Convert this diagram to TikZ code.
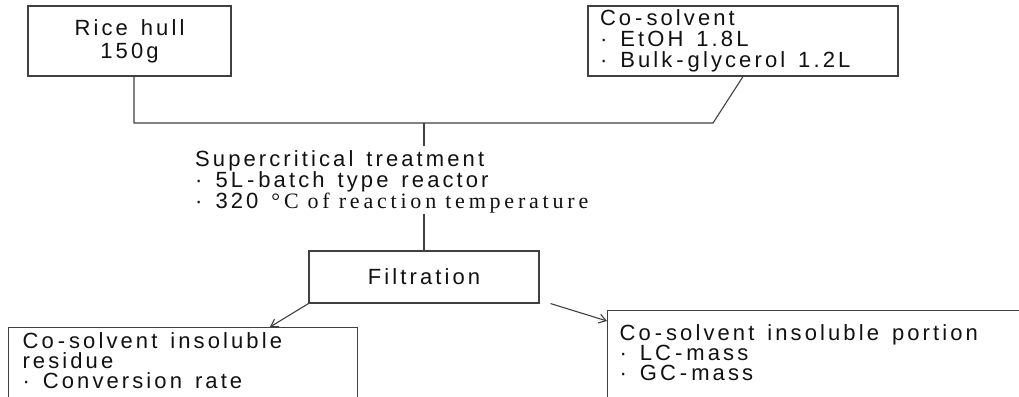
\documentclass[tikz,border=0pt]{standalone}
\usepackage{fontspec}
\setmainfont{Liberation Sans}
\newfontfamily\serifpart{Liberation Serif}
\usetikzlibrary{arrows.meta}
\definecolor{ln}{HTML}{404040}
\definecolor{tx}{HTML}{111111}
\newdimen\trk \trk=3.1pt
\newdimen\trkh \trkh=4pt
\XeTeXcharclass`\-=1
\XeTeXinterchartoks 0 0 = {\kern\trk}
\XeTeXinterchartoks 0 1 = {\kern\trkh}
\XeTeXinterchartoks 1 0 = {\kern\trkh}
\newcommand\trackfont{\fontsize{22}{21}\selectfont\XeTeXinterchartokenstate=1\relax}
\newcommand\widespaces{\spaceskip=13pt plus 2pt minus 1pt\relax\xspaceskip=13pt\relax}
\newcommand\serifbit[1]{{\serifpart\trk=3.8pt\spaceskip=9pt\relax\xspaceskip=9pt\relax#1}}
\newcommand\deepend{\rule[-16pt]{0pt}{1pt}}
\begin{document}
\begin{tikzpicture}[x=1pt,y=-1pt,
  every node/.style={text=tx,font=\trackfont,execute at begin node=\widespaces},
  box/.style={draw=ln,line width=1.1pt,rectangle},
  conn/.style={draw=ln,line width=1.1pt},
  arr/.style={conn,-{Straight Barb[length=7pt,width=9pt]}}]
\useasboundingbox (0,0) rectangle (1019,396);
\clip (0,0) rectangle (1019,396);
\fill[white] (0,0) rectangle (1019,396);

\node[box,minimum width=203pt,minimum height=70pt,align=center,inner sep=0pt] (rice) at (129.5,41)
  {Rice hull\\[2pt]150g};
\node[box,minimum height=70pt,text width=286pt,inner xsep=12pt,inner ysep=0pt,align=left] (cos) at (743,41)
  {Co-solvent\\· EtOH 1.8L\\· Bulk-glycerol 1.2L};
\node[anchor=north west,inner sep=0pt,align=left] (sc) at (195,150.5)
  {Supercritical treatment\\· 5L-batch type reactor\\· 320 \serifbit{°C of reaction temperature}};
\node[box,minimum width=230pt,minimum height=52pt,inner sep=0pt] (filt) at (424,277) {Filtration};
\node[box,anchor=north west,text width=321pt,inner xsep=14pt,inner ysep=5.3pt,align=left] (res) at (8,327)
  {Co-solvent insoluble\\[-1pt]residue\\[-1pt]· Conversion rate\deepend};
\node[box,anchor=north west,text width=420pt,inner xsep=12pt,inner ysep=14.3pt,align=left] (por) at (607,310)
  {Co-solvent insoluble portion\\[-1pt]· LC-mass\\[-1pt]· GC-mass\deepend};

\coordinate (hr) at (713,123);
\coordinate (j) at (424,123);
\draw[conn] ([xshift=4.5pt]rice.south) |- (hr) -- (cos.south);
\draw[conn] (j) -- ([yshift=4.5pt]sc.north -| j);
\draw[conn] (sc.south -| filt.north) -- (filt.north);
\draw[arr] (filt.south west) -- ([xshift=262pt]res.north west);
\draw[arr] ([xshift=11pt]filt.south east) -- ([yshift=-11pt]por.north west);
\end{tikzpicture}
\end{document}
